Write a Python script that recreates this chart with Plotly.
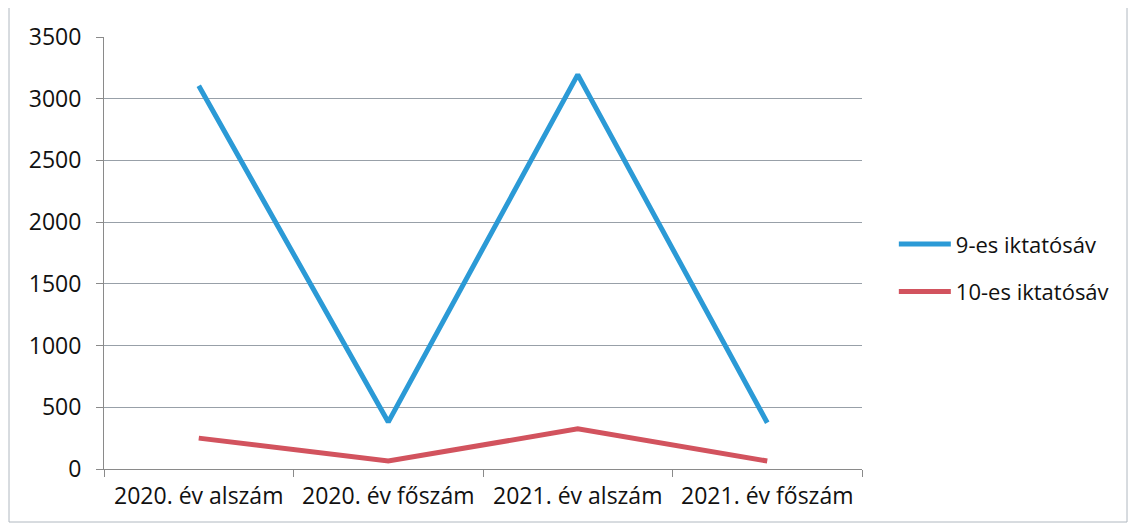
import plotly.graph_objects as go

categories = ["2020. év alszám", "2020. év főszám", "2021. év alszám", "2021. év főszám"]
series_names = ["9-es iktatósáv", "10-es iktatósáv"]
sav9 = [3105, 380, 3195, 375]
sav10 = [250, 65, 325, 65]
y_ticks = [0, 500, 1000, 1500, 2000, 2500, 3000, 3500]

colors = ["#2B9AD6", "#D2535E"]

fig = go.Figure()
for i, (name, vals) in enumerate(zip(series_names, [sav9, sav10])):
    fig.add_trace(go.Scatter(
        x=categories, y=vals, name=name, mode="lines",
        line=dict(color=colors[i], width=5),
        legendgroup=name,
    ))

# page body adds an 8px offset, so the figure is a bit smaller than the window
fig.update_layout(
    width=1120, height=515,
    margin=dict(l=96, r=266, t=29, b=54),
    paper_bgcolor="white", plot_bgcolor="white",
    font=dict(family="Open Sans", size=23, color="#111111"),
    legend=dict(x=1.042, y=0.465, xanchor="left", yanchor="middle",
                itemwidth=52, tracegroupgap=16, font=dict(size=22)),
    xaxis=dict(range=[-0.5, 3.5], showgrid=False, showline=True, linecolor="#8a8a8a",
               ticks="outside", ticklen=7, tickcolor="#8a8a8a", tickson="boundaries",
               ticklabelstandoff=6),
    yaxis=dict(range=[0, 3500], tickvals=y_ticks, showgrid=True, gridcolor="#98a0a8",
               showline=True, linecolor="#8a8a8a", ticks="outside", ticklen=7,
               tickcolor="#8a8a8a", zeroline=False, ticklabelstandoff=10),
    shapes=[dict(type="rect", xref="paper", yref="paper",
                 x0=-95 / 758, x1=(1119 - 96) / 758,
                 y0=(461 - 514) / 432, y1=(461 + 1) / 432,
                 line=dict(color="#b0b8c0", width=1))],
)

fig.write_html("out.html")
